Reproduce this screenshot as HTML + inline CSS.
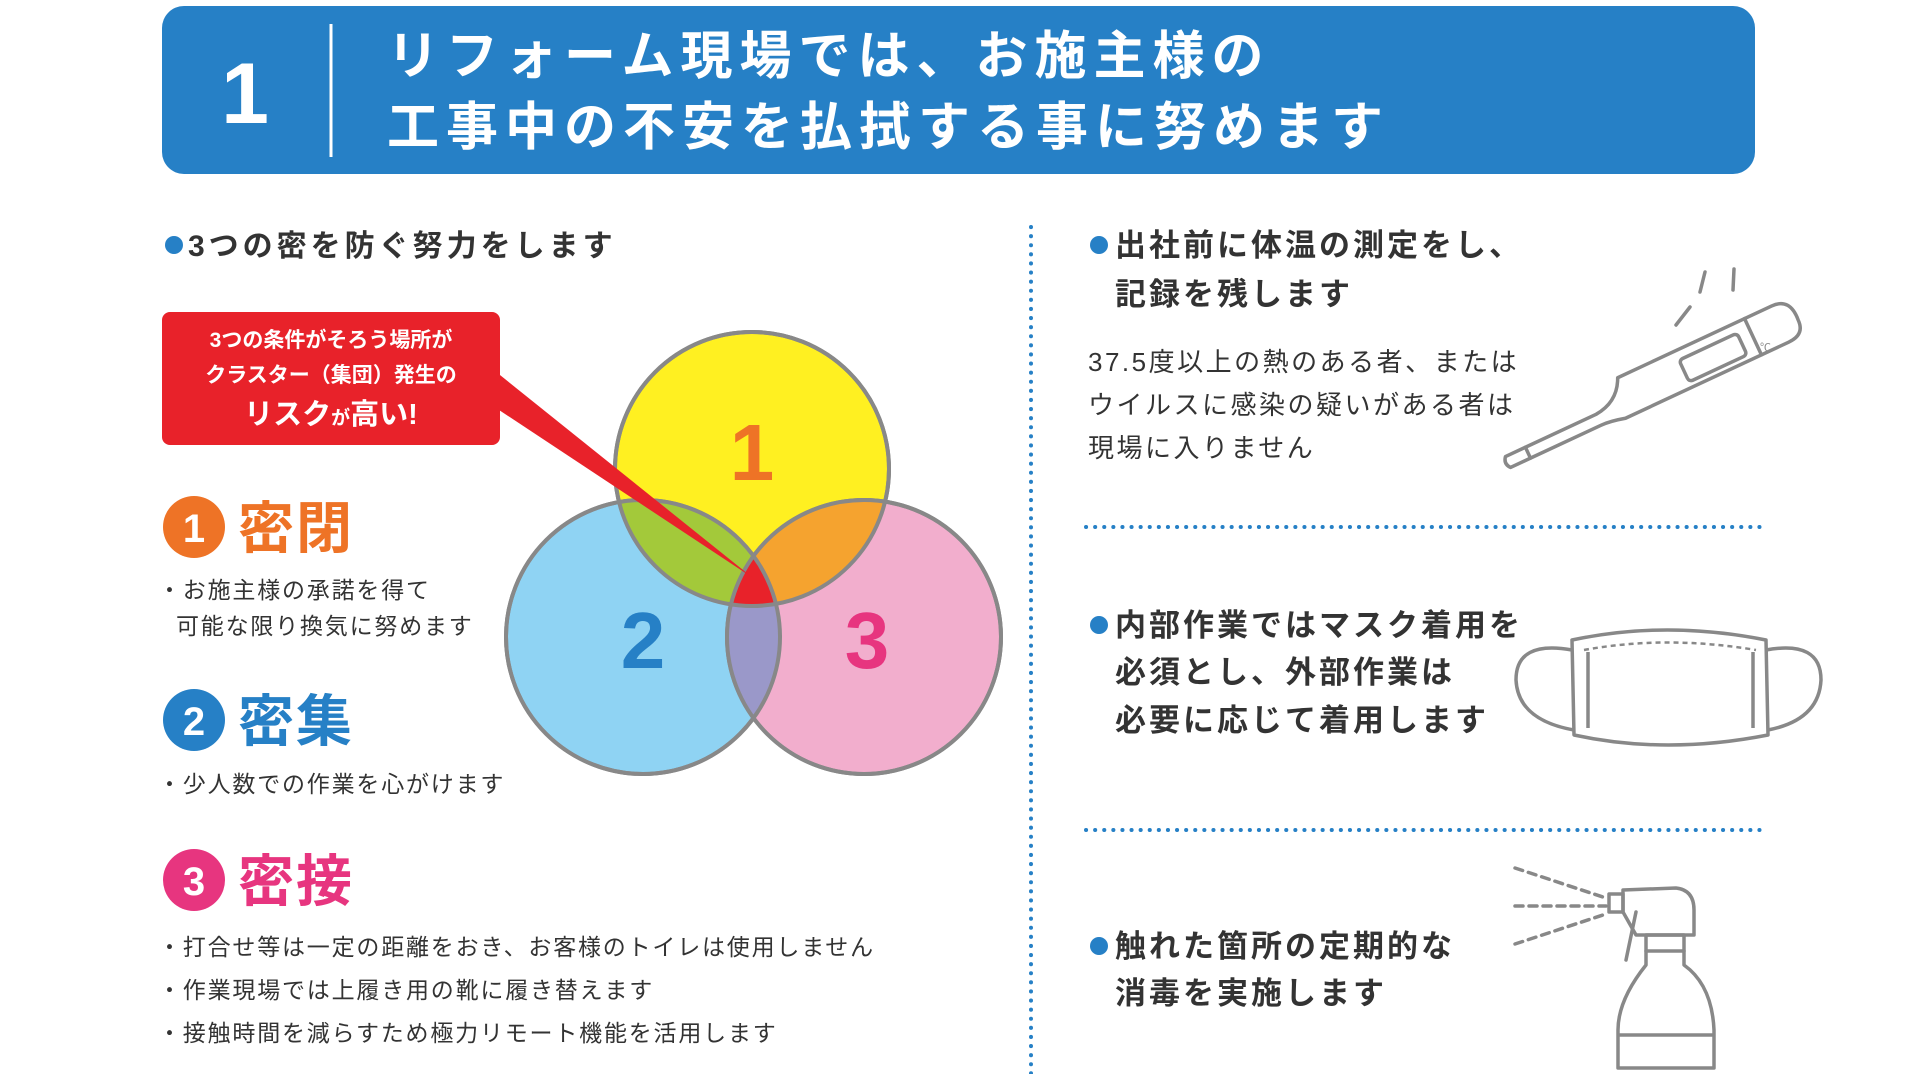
<!DOCTYPE html>
<html><head><meta charset="utf-8"><style>
html,body{margin:0;padding:0;background:#fff;}
svg{display:block}
text{font-family:"Liberation Sans","Noto Sans CJK JP",sans-serif;}
</style></head><body>
<svg width="1911" height="1074" viewBox="0 0 1911 1074" xmlns="http://www.w3.org/2000/svg">
<rect x="162" y="6" width="1593" height="168" rx="22" fill="#2680c6"/>
<text x="245" y="123" font-size="86" font-weight="bold" fill="#fff" text-anchor="middle">1</text>
<line x1="331" y1="24" x2="331" y2="157" stroke="#fff" stroke-width="3"/>
<text x="387" y="74" font-size="52" font-weight="bold" fill="#fff" letter-spacing="7">リフォーム現場では、お施主様の</text>
<text x="387" y="145" font-size="52" font-weight="bold" fill="#fff" letter-spacing="7">工事中の不安を払拭する事に努めます</text>

<circle cx="174" cy="245" r="9" fill="#2680c6"/>
<text x="188" y="256" font-size="30" fill="#333" font-weight="bold" letter-spacing="4">3つの密を防ぐ努力をします</text>

<circle cx="752" cy="469" r="137" fill="#fff021" stroke="#888" stroke-width="4"/>
<circle cx="643" cy="637" r="137" fill="#8fd3f3" stroke="#888" stroke-width="4"/>
<circle cx="864" cy="637" r="137" fill="#f2aecd" stroke="#888" stroke-width="4"/>
<defs>
<clipPath id="cy"><circle cx="752" cy="469" r="137"/></clipPath>
<clipPath id="cb"><circle cx="643" cy="637" r="137"/></clipPath>
<clipPath id="cp"><circle cx="864" cy="637" r="137"/></clipPath>
</defs>
<g clip-path="url(#cy)"><circle cx="643" cy="637" r="137" fill="#a3c93a"/><circle cx="864" cy="637" r="137" fill="#f5a32f"/></g>
<g clip-path="url(#cb)"><circle cx="864" cy="637" r="137" fill="#9a98c9"/></g>
<g clip-path="url(#cb)"><g clip-path="url(#cp)"><circle cx="752" cy="469" r="137" fill="#e8222a"/></g></g>
<circle cx="752" cy="469" r="137" fill="none" stroke="#888" stroke-width="4"/>
<circle cx="643" cy="637" r="137" fill="none" stroke="#888" stroke-width="4"/>
<circle cx="864" cy="637" r="137" fill="none" stroke="#888" stroke-width="4"/>
<text x="752" y="480" font-size="80" font-weight="bold" fill="#ee7326" text-anchor="middle">1</text>
<text x="643" y="668" font-size="80" font-weight="bold" fill="#2680c6" text-anchor="middle">2</text>
<text x="867" y="668" font-size="80" font-weight="bold" fill="#e7357f" text-anchor="middle">3</text>

<polygon points="490,367 490,404 753,578" fill="#e8222a"/>
<rect x="162" y="312" width="338" height="133" rx="8" fill="#e8222a"/>
<text x="331" y="347" font-size="21" font-weight="bold" fill="#fff" text-anchor="middle">3つの条件がそろう場所が</text>
<text x="331" y="382" font-size="21" font-weight="bold" fill="#fff" text-anchor="middle">クラスター（集団）発生の</text>
<text x="331" y="424" font-size="29" font-weight="bold" fill="#fff" text-anchor="middle">リスク<tspan font-size="19">が</tspan>高い!</text>

<circle cx="194" cy="527" r="31" fill="#ee7326"/>
<text x="194" y="542" font-size="40" font-weight="bold" fill="#fff" text-anchor="middle">1</text>
<text x="238" y="548" font-size="56" font-weight="bold" fill="#ee7326" letter-spacing="2">密閉</text>
<text x="158" y="598" font-size="23" fill="#333" letter-spacing="1.8">・お施主様の承諾を得て</text>
<text x="176" y="634" font-size="23" fill="#333" letter-spacing="1.8">可能な限り換気に努めます</text>

<circle cx="194" cy="720" r="31" fill="#2680c6"/>
<text x="194" y="735" font-size="40" font-weight="bold" fill="#fff" text-anchor="middle">2</text>
<text x="238" y="741" font-size="56" font-weight="bold" fill="#2680c6" letter-spacing="2">密集</text>
<text x="158" y="792" font-size="23" fill="#333" letter-spacing="1.8">・少人数での作業を心がけます</text>

<circle cx="194" cy="880" r="31" fill="#e7357f"/>
<text x="194" y="895" font-size="40" font-weight="bold" fill="#fff" text-anchor="middle">3</text>
<text x="238" y="901" font-size="56" font-weight="bold" fill="#e7357f" letter-spacing="2">密接</text>
<text x="158" y="955" font-size="23" fill="#333" letter-spacing="1.8">・打合せ等は一定の距離をおき、お客様のトイレは使用しません</text>
<text x="158" y="998" font-size="23" fill="#333" letter-spacing="1.8">・作業現場では上履き用の靴に履き替えます</text>
<text x="158" y="1041" font-size="23" fill="#333" letter-spacing="1.8">・接触時間を減らすため極力リモート機能を活用します</text>

<line x1="1031" y1="227" x2="1031" y2="1074" stroke="#2680c6" stroke-width="4" stroke-dasharray="0.1 9" stroke-linecap="round"/>
<line x1="1086" y1="527" x2="1768" y2="527" stroke="#2680c6" stroke-width="4" stroke-dasharray="0.1 9" stroke-linecap="round"/>
<line x1="1086" y1="830" x2="1768" y2="830" stroke="#2680c6" stroke-width="4" stroke-dasharray="0.1 9" stroke-linecap="round"/>

<circle cx="1099" cy="245" r="9" fill="#2680c6"/>
<text x="1115" y="256" font-size="31" font-weight="bold" fill="#333" letter-spacing="3">出社前に体温の測定をし、</text>
<text x="1115" y="305" font-size="31" font-weight="bold" fill="#333" letter-spacing="3">記録を残します</text>
<text x="1088" y="371" font-size="26" fill="#333" letter-spacing="2.5">37.5度以上の熱のある者、または</text>
<text x="1088" y="414" font-size="26" fill="#333" letter-spacing="2.5">ウイルスに感染の疑いがある者は</text>
<text x="1088" y="457" font-size="26" fill="#333" letter-spacing="2.5">現場に入りません</text>
<g fill="none" stroke="#888" stroke-width="3.5" stroke-linecap="round" stroke-linejoin="round">
<line x1="1676" y1="325" x2="1690" y2="307"/>
<line x1="1700" y1="292" x2="1705" y2="272"/>
<line x1="1733" y1="290" x2="1734" y2="269"/>
<g transform="translate(1508,462) rotate(-25)">
<path d="M0,-6 L22,-6 L22,6 L0,6 Q-5,0 0,-6 Z"/>
<path d="M22,-6 L100,-6 Q125,-8 135,-30 L305,-30 Q325,-30 323,-6 Q323,10 305,10 L125,10 Q110,6 100,6 L22,6"/>
<line x1="275" y1="-30" x2="275" y2="10"/>
<rect x="198" y="-20" width="64" height="24" rx="4"/>
</g>
</g>
<text x="1760" y="351" font-size="11" fill="#888">℃</text>

<circle cx="1099" cy="625" r="9" fill="#2680c6"/>
<text x="1115" y="636" font-size="31" font-weight="bold" fill="#333" letter-spacing="3">内部作業ではマスク着用を</text>
<text x="1115" y="683" font-size="31" font-weight="bold" fill="#333" letter-spacing="3">必須とし、外部作業は</text>
<text x="1115" y="731" font-size="31" font-weight="bold" fill="#333" letter-spacing="3">必要に応じて着用します</text>
<g fill="none" stroke="#888" stroke-width="3.5" stroke-linejoin="round">
<path d="M1572,640 Q1666,620 1766,640 L1768,735 Q1666,755 1574,735 Z"/>
<path d="M1572,650 Q1516,640 1516,680 Q1518,720 1574,730"/>
<path d="M1766,650 Q1821,640 1821,680 Q1819,720 1768,730"/>
<path d="M1584,650 Q1666,635 1756,650" stroke-dasharray="5 4" stroke-width="2.5"/>
<line x1="1588" y1="652" x2="1588" y2="728"/>
<line x1="1753" y1="652" x2="1753" y2="728"/>
</g>

<circle cx="1099" cy="946" r="9" fill="#2680c6"/>
<text x="1115" y="957" font-size="31" font-weight="bold" fill="#333" letter-spacing="3">触れた箇所の定期的な</text>
<text x="1115" y="1004" font-size="31" font-weight="bold" fill="#333" letter-spacing="3">消毒を実施します</text>
<g fill="none" stroke="#888" stroke-width="3.5" stroke-linejoin="round" stroke-linecap="round">
<line x1="1515" y1="868" x2="1606" y2="898" stroke-dasharray="8 6"/>
<line x1="1515" y1="906" x2="1606" y2="906" stroke-dasharray="8 6"/>
<line x1="1515" y1="944" x2="1606" y2="914" stroke-dasharray="8 6"/>
<rect x="1609" y="894" width="14" height="18"/>
<path d="M1623,890 L1676,888 Q1694,890 1694,910 L1694,935 L1636,935 L1623,912 Z"/>
<path d="M1636,912 L1626,960"/>
<rect x="1646" y="935" width="38" height="16"/>
<path d="M1646,951 L1646,965 Q1618,1000 1618,1030 L1618,1068 L1714,1068 L1714,1030 Q1712,985 1684,965 L1684,951"/>
<line x1="1620" y1="1035" x2="1712" y2="1035"/>
</g>
</svg>
</body></html>
